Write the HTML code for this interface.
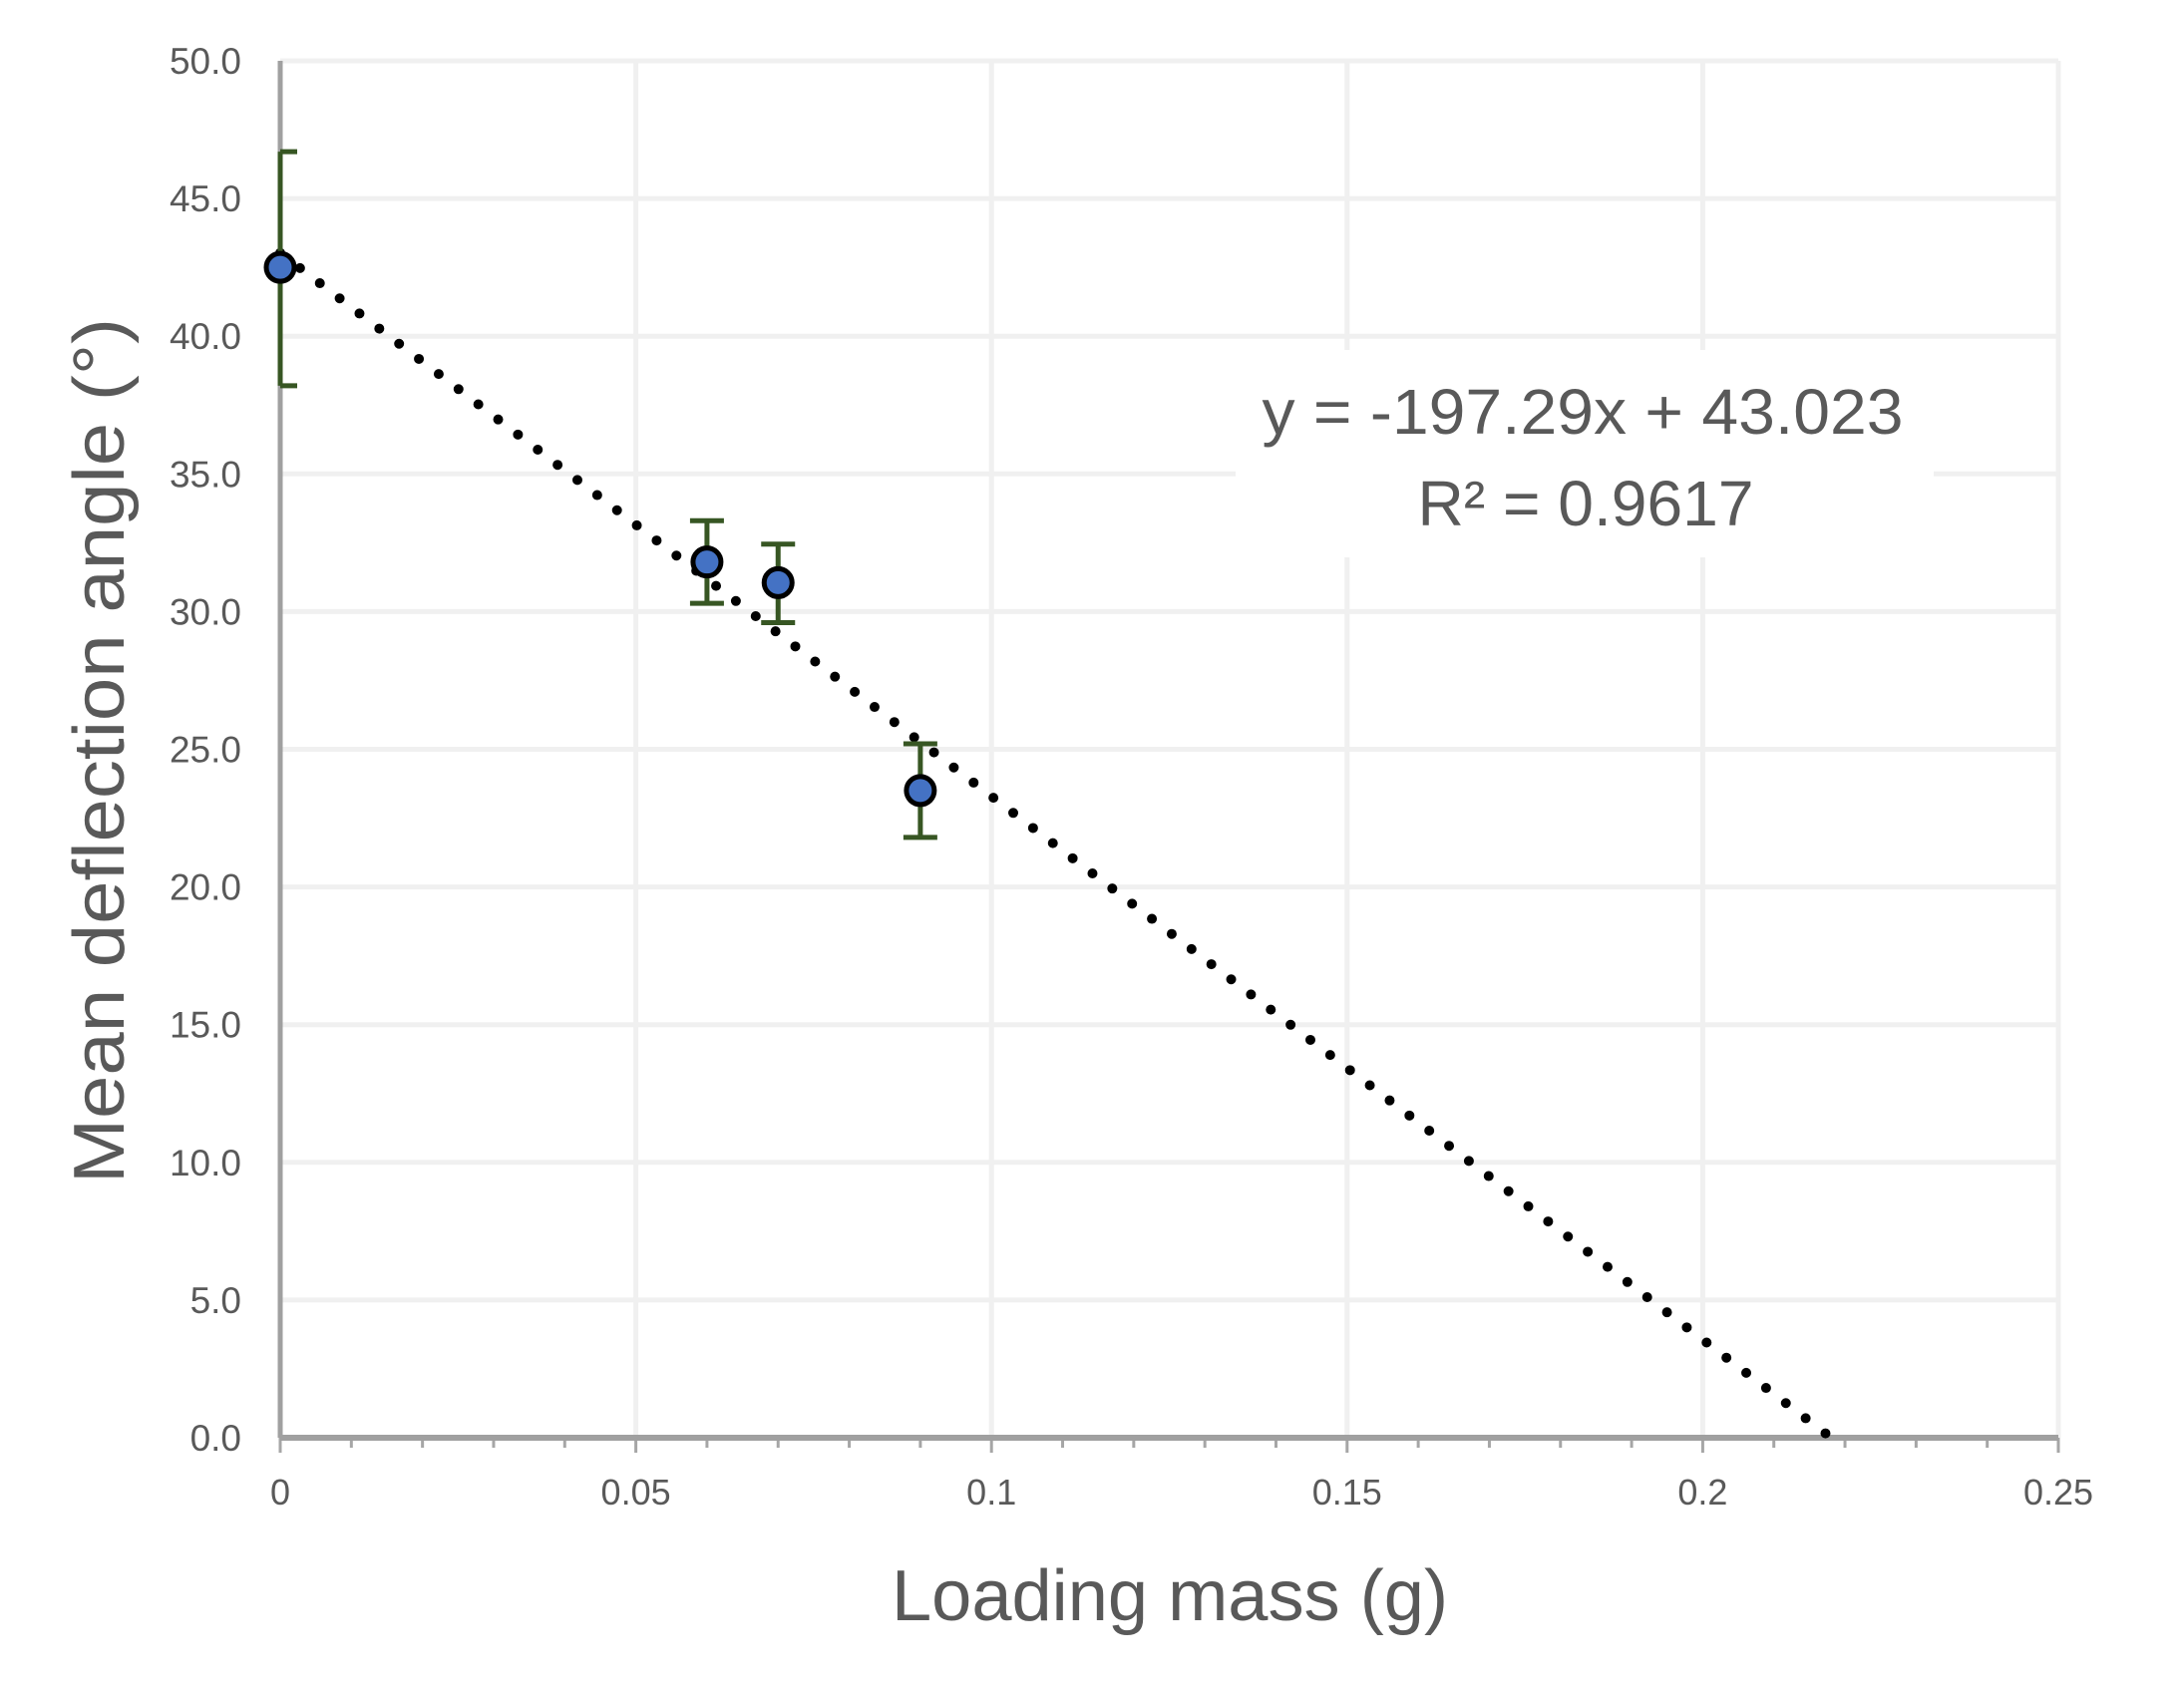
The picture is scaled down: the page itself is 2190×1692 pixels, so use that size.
<!DOCTYPE html>
<html><head><meta charset="utf-8"><style>html,body{margin:0;padding:0;background:#fff}svg{display:block}</style></head>
<body>
<svg id="chart" width="2190" height="1692" viewBox="0 0 2190 1692" xmlns="http://www.w3.org/2000/svg" font-family="'Liberation Sans', sans-serif">
<g id="grid"></g>
<g id="axes"></g>
<g id="trend"></g>
<g id="errs"></g>
<g id="pts"></g>
<g>
<rect x="1239" y="351" width="700" height="208" fill="#fff"/>
<text x="1587" y="435" font-size="64" fill="#595959" text-anchor="middle" textLength="643" lengthAdjust="spacingAndGlyphs">y = -197.29x + 43.023</text>
<text x="1590" y="527" font-size="64" fill="#595959" text-anchor="middle" textLength="337" lengthAdjust="spacingAndGlyphs">R² = 0.9617</text>
</g>
<text x="1173" y="1625" font-size="72" fill="#595959" text-anchor="middle" textLength="558" lengthAdjust="spacingAndGlyphs">Loading mass (g)</text>
<text transform="translate(124,753) rotate(-90)" font-size="72" fill="#595959" text-anchor="middle" textLength="868" lengthAdjust="spacingAndGlyphs">Mean deflection angle (°)</text>
</svg>
<script>
const xs = [0, 0.06, 0.07, 0.09];
const ys = [42.5, 31.8, 31.05, 23.5];
const errPlus = [4.2, 1.5, 1.4, 1.7];
const errMinus = [4.3, 1.5, 1.45, 1.7];
const slope = -197.29;
const intercept = 43.023;
const yTicks = [0, 5, 10, 15, 20, 25, 30, 35, 40, 45, 50];
const yTickLabels = ["0.0","5.0","10.0","15.0","20.0","25.0","30.0","35.0","40.0","45.0","50.0"];
const xTicks = [0, 0.05, 0.1, 0.15, 0.2, 0.25];
const xTickLabels = ["0","0.05","0.1","0.15","0.2","0.25"];

const NS = "http://www.w3.org/2000/svg";
const X0 = 281, X1 = 2064, Y0 = 1442, Y1 = 61;
const sx = v => X0 + (v / 0.25) * (X1 - X0);
const sy = v => Y0 - (v / 50) * (Y0 - Y1);
function mk(parent, tag, attrs, text) {
  const el = document.createElementNS(NS, tag);
  for (const k in attrs) el.setAttribute(k, attrs[k]);
  if (text !== undefined) el.textContent = text;
  document.getElementById(parent).appendChild(el);
  return el;
}
yTicks.forEach((t, i) => {
  if (t > 0) {
    const g = mk('grid', 'line', {x1: X0, x2: X1, y1: sy(t), y2: sy(t), stroke: '#f0f0f0', 'stroke-width': 5});
    
    
  }
  const l = mk('axes', 'text', {x: 242, y: sy(t) + 13, 'font-size': 37, fill: '#595959', 'text-anchor': 'end'}, yTickLabels[i]);
  
  
});
xTicks.forEach((t, i) => {
  if (t > 0) {
    const g = mk('grid', 'line', {x1: sx(t), x2: sx(t), y1: Y1, y2: Y0, stroke: '#f0f0f0', 'stroke-width': 5});
    
    
  }
  const l = mk('axes', 'text', {x: sx(t), y: 1509, 'font-size': 36, fill: '#595959', 'text-anchor': 'middle'}, xTickLabels[i]);
  
  
});
for (let k = 0; k <= 25; k++) {
  const major = k % 5 === 0;
  const t = mk('axes', 'line', {x1: sx(k * 0.01), x2: sx(k * 0.01), y1: Y0, y2: major ? 1457 : 1452, stroke: '#a6a6a6', 'stroke-width': 3});
  
  
}
const ya = mk('axes', 'line', {x1: X0, x2: X0, y1: Y1, y2: Y0, stroke: '#a0a0a0', 'stroke-width': 5});


const xa = mk('axes', 'line', {x1: X0, x2: X1, y1: Y0, y2: Y0, stroke: '#a0a0a0', 'stroke-width': 6});



const xEnd = -intercept / slope;
const tl = mk('trend', 'line', {x1: sx(0), y1: sy(intercept), x2: sx(xEnd), y2: sy(0), stroke: '#000', 'stroke-width': 10, 'stroke-linecap': 'round', 'stroke-dasharray': '0 25'});



xs.forEach((x, i) => {
  const cx = sx(x), top = sy(ys[i] + errPlus[i]), bot = sy(ys[i] - errMinus[i]);
  const hw = 17;
  const left = x === 0 ? cx : cx - hw;
  const v = mk('errs', 'line', {x1: cx, x2: cx, y1: top, y2: bot, stroke: '#375623', 'stroke-width': 5});
  
  
  [top, bot].forEach(yy => {
    const c = mk('errs', 'line', {x1: left, x2: cx + hw, y1: yy, y2: yy, stroke: '#375623', 'stroke-width': 5});
    
    
  });
  const p = mk('pts', 'circle', {cx: cx, cy: sy(ys[i]), r: 14, fill: '#4472C4', stroke: '#000', 'stroke-width': 5});
  
  
});
</script>
</body></html>
